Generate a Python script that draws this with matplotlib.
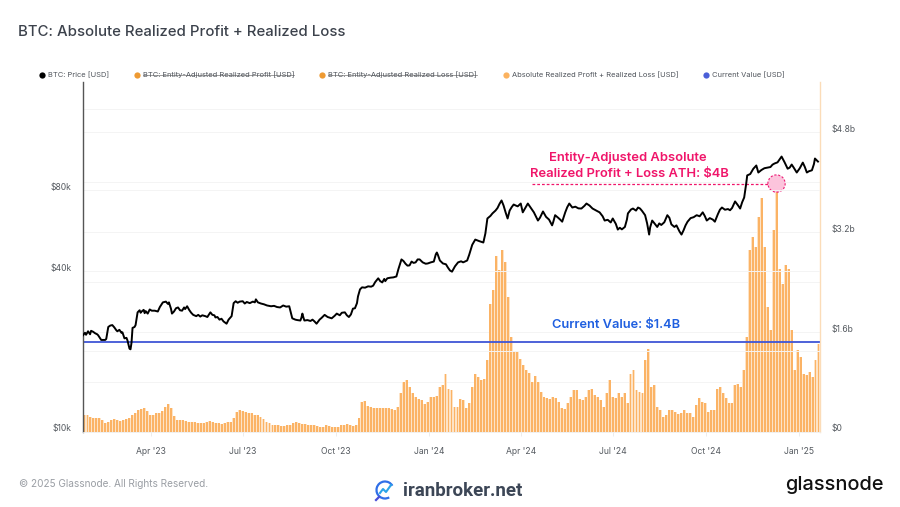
"""BTC realized profit + loss chart, glassnode style."""
import matplotlib
matplotlib.use('Agg')
import matplotlib.patches as patches
import matplotlib.pyplot as plt
import numpy as np
import pandas as pd
from matplotlib.lines import Line2D

plt.rcParams['font.family'] = ['Inter', 'DejaVu Sans']

START = pd.Timestamp('2023-01-24')
END = pd.Timestamp('2025-01-22')

# BTC price: days since START and price in thousand USD
price_days = [0, 2, 3, 5, 7, 8, 10, 12, 14, 15, 17, 18, 22, 23, 25, 27, 29, 31, 33, 34,
              36, 38, 39, 41, 43, 44, 46, 47, 48, 49, 51, 52, 54, 56, 57, 58, 60, 61, 62, 64,
              66, 68, 71, 74, 76, 79, 82, 84, 85, 87, 88, 90, 92, 94, 96, 98, 100, 101, 103, 105,
              107, 109, 112, 114, 116, 118, 121, 123, 126, 128, 130, 131, 133, 135, 137, 139, 142, 144, 147, 149,
              151, 153, 155, 158, 160, 162, 165, 168, 170, 171, 173, 176, 179, 182, 186, 189, 192, 195, 198, 201,
              204, 205, 207, 210, 212, 215, 216, 217, 218, 219, 222, 225, 227, 229, 231, 234, 236, 239, 242, 246,
              249, 251, 254, 256, 259, 261, 263, 265, 267, 269, 271, 272, 274, 276, 279, 282, 285, 287, 289, 292,
              294, 296, 298, 299, 301, 304, 307, 310, 312, 315, 317, 319, 321, 323, 325, 327, 329, 331, 333, 336,
              339, 341, 344, 347, 349, 350, 351, 353, 356, 359, 361, 363, 365, 368, 371, 374, 376, 380, 382, 385,
              388, 392, 396, 398, 400, 403, 405, 408, 410, 412, 414, 416, 418, 420, 422, 424, 426, 428, 430, 433,
              435, 437, 440, 443, 446, 450, 452, 455, 458, 461, 464, 465, 467, 470, 472, 474, 477, 479, 481, 484,
              487, 490, 493, 496, 498, 501, 504, 507, 509, 511, 514, 516, 519, 522, 524, 527, 529, 531, 533, 536,
              538, 539, 542, 544, 547, 549, 551, 553, 556, 558, 560, 561, 563, 565, 568, 570, 572, 575, 578, 580,
              582, 585, 587, 590, 592, 594, 596, 598, 601, 604, 607, 610, 613, 615, 617, 620, 623, 625, 628, 630,
              632, 635, 638, 640, 642, 645, 648, 650, 652, 654, 656, 657, 660, 663, 666, 668, 671, 674, 677, 680,
              682, 684, 687, 689, 691, 694, 697, 699, 701, 703, 706, 709, 712, 714, 716, 718, 721, 723, 724, 726,
              727]
price_k = [22.9, 23.4, 23.0, 23.7, 23.1, 23.8, 23.6, 23.3, 23.1, 22.9, 22.3, 22.0, 22.0, 22.2, 24.6, 24.9, 25.0, 24.5, 23.9, 23.7,
           24.0, 23.4, 23.5, 22.3, 22.4, 21.9, 20.4, 20.3, 21.5, 24.4, 24.6, 25.0, 27.9, 28.4, 27.8, 28.1, 28.5, 27.7, 28.2, 27.6,
           28.6, 28.3, 28.3, 28.1, 29.2, 30.4, 30.6, 30.0, 30.4, 28.8, 27.6, 28.1, 28.9, 29.1, 28.4, 28.3, 29.1, 28.7, 29.4, 28.5,
           27.8, 27.3, 27.0, 27.3, 26.9, 27.2, 27.0, 26.8, 27.9, 27.3, 27.2, 26.7, 26.8, 26.2, 26.4, 25.8, 25.3, 26.2, 27.0, 30.2,
           30.7, 30.3, 30.6, 30.7, 30.1, 30.5, 30.2, 30.6, 30.4, 31.2, 30.4, 30.1, 29.9, 29.6, 29.4, 29.5, 29.2, 29.1, 29.6, 29.3,
           29.4, 28.4, 26.5, 26.2, 26.1, 26.0, 26.6, 27.6, 26.7, 26.0, 26.1, 25.9, 26.2, 25.8, 25.3, 26.2, 26.6, 27.3, 26.8, 26.5,
           27.1, 27.6, 27.2, 27.8, 27.9, 27.2, 26.8, 27.4, 28.8, 28.9, 30.2, 32.0, 34.0, 34.6, 34.5, 34.9, 34.8, 35.1, 36.2, 37.4,
           36.5, 36.1, 37.2, 36.5, 37.4, 37.6, 37.7, 38.0, 40.5, 44.0, 43.4, 42.4, 41.7, 41.8, 43.2, 42.7, 42.9, 44.0, 44.0, 42.9,
           42.4, 42.5, 42.9, 43.2, 46.0, 46.7, 45.8, 43.6, 42.5, 42.2, 41.0, 40.0, 39.6, 41.5, 42.9, 43.3, 42.9, 43.6, 45.8, 49.9,
           52.2, 51.5, 50.9, 55.0, 62.6, 64.0, 65.4, 67.0, 68.5, 71.0, 73.1, 70.0, 66.0, 62.6, 67.0, 69.0, 70.6, 70.0, 69.5, 71.2,
           66.0, 68.0, 71.2, 68.5, 66.0, 61.5, 63.0, 66.5, 63.5, 62.0, 59.0, 60.5, 64.4, 63.0, 62.0, 60.9, 66.0, 69.0, 71.2, 68.8,
           69.3, 68.3, 68.2, 69.8, 71.2, 70.0, 68.2, 67.2, 66.6, 66.0, 63.8, 61.5, 61.9, 60.5, 62.6, 59.8, 56.9, 57.8, 57.0, 58.2,
           62.0, 65.4, 67.6, 68.2, 67.0, 68.8, 68.2, 66.8, 64.4, 60.0, 54.5, 58.0, 61.5, 60.2, 58.2, 60.0, 59.2, 60.6, 64.4, 63.0,
           59.5, 58.2, 59.0, 56.0, 54.5, 56.5, 59.0, 60.9, 62.8, 63.3, 64.4, 63.8, 66.0, 64.0, 61.5, 62.8, 62.0, 60.9, 65.0, 67.5,
           68.8, 67.5, 67.9, 67.2, 68.5, 72.5, 70.0, 68.2, 72.0, 75.0, 84.5, 90.7, 91.8, 96.0, 98.8, 93.0, 95.0, 96.5, 97.0, 97.5,
           99.5, 100.5, 101.5, 104.0, 106.7, 101.5, 96.1, 97.0, 99.6, 97.0, 93.0, 96.5, 101.3, 97.5, 93.0, 94.0, 94.8, 100.0, 104.9, 103.0,
           102.2]

# absolute realized profit + loss in billion USD, evenly spaced over the range
realized_b = [.27, .26, .23, .22, .21, .21, .19, .14, .15, .19, .20, .18, .17, .19, .20, .22, .26, .30, .34, .36,
              .37, .33, .26, .27, .29, .30, .33, .40, .44, .37, .25, .19, .18, .18, .17, .16, .15, .15, .14, .13,
              .14, .16, .17, .16, .14, .13, .12, .13, .16, .16, .21, .31, .35, .33, .31, .29, .29, .27, .26, .24,
              .20, .16, .14, .11, .10, .10, .09, .09, .10, .11, .14, .16, .14, .12, .12, .11, .10, .10, .085, .075,
              .07, .10, .09, .065, .065, .08, .10, .11, .12, .10, .085, .10, .21, .48, .49, .41,
              .39, .38, .37, .38, .38, .37, .37, .36, .34, .40, .61, .80, .82, .72, .61, .55, .52, .51, .44, .48,
              .55, .56, .57, .72, .75, .93, .69, .67, .39, .39, .52, .50, .37, .45, .72, .92, .88, .82, .84, 1.15,
              2.05, 2.27, 2.82, 2.59, 2.92, 2.72, 2.16, 1.52, 1.27, 1.27, 1.17, 1.07, .99, .94, .80, .89, .80, .64,
              .55, .53, .52, .55, .53, .48, .37, .36, .45, .56, .67, .67, .52, .50, .56, .67, .68, .59, .55, .51,
              .40, .61, .83,
              .56, .53, .61, .56, .62, .45, .93, .99, .67, .64, .61, 1.15, 1.33, .72, .75, .40, .35, .24, .27, .34,
              .35, .32, .28, .29, .35, .30, .29, .24, .43, .53, .48, .45, .32, .35, .35, .69, .72, .61, .53, .45,
              .45, .75, .77, .72, .99, 1.52, 2.91, 3.12, 2.96, 3.44, 3.74, 2.96, 2.00, 1.63, 3.23, 3.97, 2.61, 2.37,
              2.67, 2.61, 1.63, .99, 1.31, 1.20, .93, .91, .96, .88, 1.15, 1.41]

current_value_b = 1.43
ath_b = 3.98

x_tick_dates = ['2023-04-01', '2023-07-01', '2023-10-01', '2024-01-01',
                '2024-04-01', '2024-07-01', '2024-10-01', '2025-01-01']
x_tick_labels = ["Apr '23", "Jul '23", "Oct '23", "Jan '24", "Apr '24", "Jul '24", "Oct '24", "Jan '25"]
left_ticks = [10000, 40000, 80000]
left_labels = ['$10k', '$40k', '$80k']
left_grid = [20000, 40000, 80000, 160000]
right_ticks = [0, 1.6, 3.2, 4.8]
right_labels = ['$0', '$1.6b', '$3.2b', '$4.8b']
right_grid = [0.8, 1.6, 2.4, 3.2, 4.0, 4.8]

legend_names = ['BTC: Price [USD]', 'BTC: Entity-Adjusted Realized Profit [USD]',
                'BTC: Entity-Adjusted Realized Loss [USD]',
                'Absolute Realized Profit + Realized Loss [USD]', 'Current Value [USD]']
legend_colors = ['#000000', '#ee9a32', '#ee9a32', '#fbb25f', '#4a5fd8']
legend_marker_px = [42, 137, 322, 506, 706]
legend_struck = [False, True, True, False, False]
legend_end_px = [108, 294, 477, 677, 783]

W, H = 900, 507
fig = plt.figure(figsize=(W / 100, H / 100), dpi=100, facecolor='white')


def fx(px):
    return px / W


def fy(py):
    return 1 - py / H


ax = fig.add_axes([fx(83), fy(431.5), fx(737), 349.5 / H])
ax2 = ax.twinx()
ax.set_zorder(ax2.get_zorder() + 1)
ax.patch.set_visible(False)

# bars and reference lines on the right hand scale
bar_x = START + (END - START) * (np.arange(len(realized_b)) + 0.5) / len(realized_b)
ax2.bar(bar_x, realized_b, width=2.96, color='#fde3c6', linewidth=0, zorder=2)
ax2.bar(bar_x, realized_b, width=1.9, color='#fbb365', linewidth=0, zorder=2.1)
for val in right_grid:
    ax2.axhline(val, color='#f4f4f4', lw=0.7, zorder=1)
ax2.plot([START, END - pd.Timedelta(days=1)], [current_value_b] * 2, color='#3f55d6', lw=1.3, zorder=3)

# ATH marker
ath_date = START + pd.Timedelta(days=686)
ax2.plot([START + pd.Timedelta(days=444), ath_date], [ath_b] * 2, color='#f0156a', lw=0.9,
         dashes=(2.2, 1.6), zorder=4)
ax2.scatter([ath_date], [ath_b], s=155, facecolor='#fcc4dc', edgecolor='#ec1c75', linewidth=0.8,
            linestyle=(0, (2, 1.5)), zorder=5)

# price on the left hand log scale
for val in left_grid:
    ax.axhline(val, color='#f4f4f4', lw=0.7, zorder=1)
price_x = [START + pd.Timedelta(days=d) for d in price_days]
ax.plot(price_x, np.array(price_k) * 1000, color='black', lw=1.4, zorder=6, solid_joinstyle='round')

ax.set_yscale('log', base=2)
ax.set_ylim(10000, 10000 * 2 ** (349.5 / 80.5))
ax2.set_ylim(0, 349.5 / 62.3)
ax.set_xlim(START, END)

ax.set_yticks(left_ticks)
ax.set_yticklabels(left_labels, fontsize=6.2, color='#555a60', va='baseline')
ax.minorticks_off()
ax.tick_params(axis='y', length=0, pad=8)
ax2.set_yticks(right_ticks)
ax2.set_yticklabels(right_labels, fontsize=6.2, color='#555a60', va='baseline')
ax2.tick_params(axis='y', length=0, pad=8.5)
ax.set_xticks([pd.Timestamp(d) for d in x_tick_dates])
ax.set_xticklabels(x_tick_labels, fontsize=6.2, color='#555a60')
ax.tick_params(axis='x', length=3, width=0.5, color='#e4e4e4', pad=8)

for spine in ax.spines.values():
    spine.set_visible(False)
for spine in ax2.spines.values():
    spine.set_visible(False)
ax.spines['left'].set_visible(True)
ax.spines['left'].set_color('#555555')
ax.spines['left'].set_linewidth(1.0)
ax2.spines['right'].set_visible(True)
ax2.spines['right'].set_color('#fbdcb8')
ax2.spines['right'].set_linewidth(1.0)
ax.spines['bottom'].set_visible(True)
ax.spines['bottom'].set_color('#eeeeee')
ax.spines['bottom'].set_linewidth(0.6)

# annotations
pink = '#f0156a'
fig.text(fx(628), fy(158), 'Entity-Adjusted Absolute', color=pink, fontsize=9.35, fontweight='semibold',
         ha='center', va='center')
fig.text(fx(629.5), fy(174), 'Realized Profit + Loss ATH: $4B', color=pink, fontsize=9.3, fontweight='semibold',
         ha='center', va='center')
fig.text(fx(616), fy(325), 'Current Value: $1.4B', color='#1f5fe0', fontsize=9.25, fontweight='semibold',
         ha='center', va='center')

# title
fig.text(fx(18), fy(32.5), 'BTC: Absolute Realized Profit + Realized Loss', color='#3c424c', fontsize=10.75,
         fontweight='medium', ha='left', va='center')

# legend row
for name, color, mx, struck, end in zip(legend_names, legend_colors, legend_marker_px, legend_struck, legend_end_px):
    fig.add_artist(Line2D([fx(mx)], [fy(75)], marker='o', ms=4.5, color=color, mew=0, transform=fig.transFigure))
    fig.text(fx(mx + 6), fy(75), name, color='#50555c', fontsize=5.4, ha='left', va='center')
    if struck:
        fig.add_artist(Line2D([fx(mx + 6), fx(end)], [fy(75)] * 2, color='#777777', lw=0.5,
                              transform=fig.transFigure))

# footer
fig.text(fx(19), fy(484), '\u00a9 2025 Glassnode. All Rights Reserved.', color='#9a9ea4', fontsize=7.2,
         ha='left', va='center')
fig.text(fx(403), fy(491.5), 'iranbroker.net', color='#3c4656', fontsize=13.5, fontweight='bold',
         family='Roboto', ha='left', va='center')
fig.text(fx(785), fy(484.5), 'glassnode', color='#111111', fontsize=14.4, fontweight='medium',
         ha='left', va='center')

# small logo next to iranbroker.net
logo_ax = fig.add_axes([fx(373), fy(503), fx(24), 24 / H])
logo_ax.set_xlim(0, 24)
logo_ax.set_ylim(24, 0)
logo_ax.axis('off')
logo_ax.add_patch(patches.Arc((12, 11), 17, 17, theta1=60, theta2=330, color='#2f6fe8', lw=1.6))
logo_ax.plot([7, 10, 13, 18], [14, 10, 13, 6], color='#2aa3e8', lw=1.5)
logo_ax.plot([6, 3], [18, 21], color='#4a4fd8', lw=1.6)

fig.savefig('out.png', dpi=100)
plt.close(fig)
